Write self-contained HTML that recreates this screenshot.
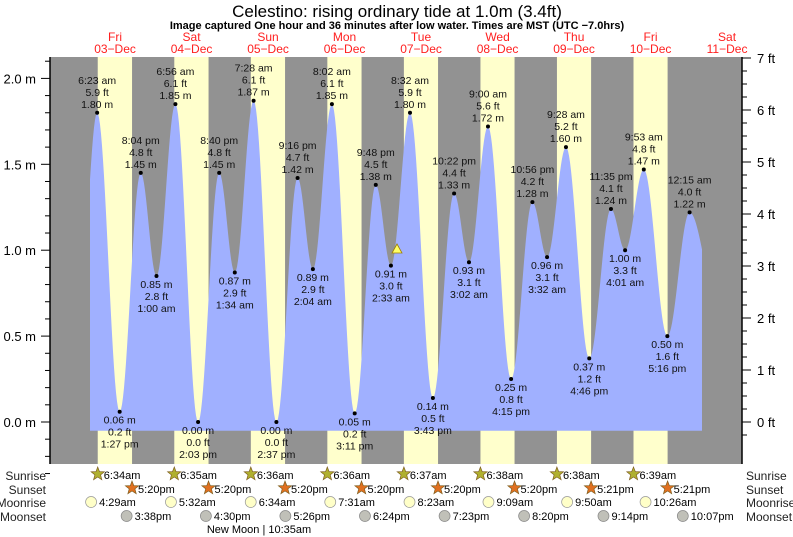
<!DOCTYPE html>
<html><head><meta charset="utf-8"><style>
body{margin:0;background:#fff}
svg{display:block;font-family:"Liberation Sans",sans-serif}
</style></head><body>
<svg id="s" width="793" height="537" xmlns="http://www.w3.org/2000/svg"></svg>
<script>
const s=document.getElementById('s');
const X=t=>76.8+t*3.1875, Y=h=>422-h*171.8;
let o='';
o+='<rect x="50" y="57" width="692" height="407" fill="#929292"/>';
const sr=[6.567,6.583,6.6,6.6,6.617,6.633,6.633,6.65], ss=[17.333,17.333,17.333,17.333,17.333,17.333,17.35,17.35];
for(let d=0;d<8;d++){o+=`<rect x="${X(d*24+sr[d])}" y="57" width="${X(ss[d])-X(sr[d])}" height="407" fill="#ffffcc"/>`;}
const E=[[1.3,0.85],[6.383,1.80],[13.45,0.06],[20.067,1.45],[25.0,0.85],[30.933,1.85],[38.05,0.00],[44.667,1.45],[49.567,0.87],[55.467,1.87],[62.617,0.00],[69.267,1.42],[74.067,0.89],[80.033,1.85],[87.183,0.05],[93.8,1.38],[98.55,0.91],[104.533,1.80],[111.717,0.14],[118.367,1.33],[123.033,0.93],[129.0,1.72],[136.25,0.25],[142.933,1.28],[147.533,0.96],[153.467,1.60],[160.767,0.37],[167.583,1.24],[172.017,1.00],[177.883,1.47],[185.267,0.50],[192.25,1.22],[201,0.7]];
function H(t){for(let i=0;i<E.length-1;i++){const[a,ha]=E[i],[b,hb]=E[i+1];if(t>=a&&t<=b){const f=(1-Math.cos(Math.PI*(t-a)/(b-a)))/2;return ha+(hb-ha)*f;}}return 1;}
let p=`M90 430.7`;for(let x=90;x<=702;x+=1){p+=` L${x} ${Y(H((x-76.8)/3.1875)).toFixed(1)}`;}
p+=' L702 430.7 Z';
o+=`<path d="${p}" fill="#a0b0ff"/>`;
const L=[["6:23 am","5.9 ft","1.80 m"],["0.06 m","0.2 ft","1:27 pm"],["8:04 pm","4.8 ft","1.45 m"],["0.85 m","2.8 ft","1:00 am"],["6:56 am","6.1 ft","1.85 m"],["0.00 m","0.0 ft","2:03 pm"],["8:40 pm","4.8 ft","1.45 m"],["0.87 m","2.9 ft","1:34 am"],["7:28 am","6.1 ft","1.87 m"],["0.00 m","0.0 ft","2:37 pm"],["9:16 pm","4.7 ft","1.42 m"],["0.89 m","2.9 ft","2:04 am"],["8:02 am","6.1 ft","1.85 m"],["0.05 m","0.2 ft","3:11 pm"],["9:48 pm","4.5 ft","1.38 m"],["0.91 m","3.0 ft","2:33 am"],["8:32 am","5.9 ft","1.80 m"],["0.14 m","0.5 ft","3:43 pm"],["10:22 pm","4.4 ft","1.33 m"],["0.93 m","3.1 ft","3:02 am"],["9:00 am","5.6 ft","1.72 m"],["0.25 m","0.8 ft","4:15 pm"],["10:56 pm","4.2 ft","1.28 m"],["0.96 m","3.1 ft","3:32 am"],["9:28 am","5.2 ft","1.60 m"],["0.37 m","1.2 ft","4:46 pm"],["11:35 pm","4.1 ft","1.24 m"],["1.00 m","3.3 ft","4:01 am"],["9:53 am","4.8 ft","1.47 m"],["0.50 m","1.6 ft","5:16 pm"],["12:15 am","4.0 ft","1.22 m"]];
for(let i=1;i<=31;i++){const[t,h]=E[i],x=X(t),y=Y(h),hi=E[i][1]>E[i-1][1],l=L[i-1];
o+=`<circle cx="${x}" cy="${y}" r="2" fill="#000"/>`;
for(let k=0;k<3;k++){const yy=hi?y-29+k*12:y+12+k*12;o+=`<text x="${x}" y="${yy}" font-size="10.5" text-anchor="middle" fill="#111">${l[k]}</text>`;}}
o+=`<polygon points="397,244 392,253 402,253" fill="#ffff66" stroke="#a08000" stroke-width="0.8"/>`;
o+='<line x1="50" y1="57" x2="50" y2="464" stroke="#000" stroke-width="1.5"/><line x1="742" y1="57" x2="742" y2="464" stroke="#000" stroke-width="1.5"/>';
for(let i=-3;i<=21;i++){const y=Y(i/10);if(y<57)continue;o+=`<line x1="${i%5?45:41}" y1="${y}" x2="50" y2="${y}" stroke="#000"/>`;if(i%5==0&&i>=0)o+=`<text x="36" y="${y+5}" font-size="13" text-anchor="end">${(i/10).toFixed(1)} m</text>`;}
for(let i=-1;i<=28;i++){const y=422-i/4*52.0;if(y<56)continue;o+=`<line x1="742" y1="${y}" x2="${i%4?747:751}" y2="${y}" stroke="#000"/>`;if(i%4==0&&i>=0)o+=`<text x="757" y="${y+5}" font-size="13">${i/4} ft</text>`;}
o+='<text x="397" y="17" font-size="17" text-anchor="middle">Celestino: rising  ordinary tide at 1.0m (3.4ft)</text>';
o+='<text x="397" y="29" font-size="11" font-weight="bold" text-anchor="middle">Image captured One hour and 36 minutes after low water. Times are MST (UTC −7.0hrs)</text>';
const dn=["Fri","Sat","Sun","Mon","Tue","Wed","Thu","Fri","Sat"],dd=["03","04","05","06","07","08","09","10","11"];
for(let d=0;d<9;d++){const x=X(d*24+12);o+=`<text x="${x}" y="41" font-size="12" fill="#ff2020" text-anchor="middle">${dn[d]}</text><text x="${x}" y="53" font-size="12" fill="#ff2020" text-anchor="middle">${dd[d]}−Dec</text>`;}
const rows=[["Sunrise",475],["Sunset",489],["Moonrise",502],["Moonset",516]];
rows.forEach(([n,y])=>{o+=`<text x="46" y="${y+5}" font-size="12" text-anchor="end" fill="#222">${n}</text><text x="746" y="${y+5}" font-size="12" fill="#222">${n}</text>`;});
function star(cx,cy,f){let pts=[];for(let k=0;k<10;k++){const r=k%2?3:7,a=-Math.PI/2+k*Math.PI/5;pts.push((cx+r*Math.cos(a)).toFixed(1)+','+(cy+r*Math.sin(a)).toFixed(1));}return `<polygon points="${pts.join(' ')}" fill="${f}" stroke="#806020" stroke-width="0.7"/>`;}
const srt=["6:34am","6:35am","6:36am","6:36am","6:37am","6:38am","6:38am","6:39am"];
const mr=[[4.483,"4:29am"],[5.533,"5:32am"],[6.567,"6:34am"],[7.517,"7:31am"],[8.383,"8:23am"],[9.15,"9:09am"],[9.833,"9:50am"],[10.433,"10:26am"]];
const ms=[[15.633,"3:38pm"],[16.5,"4:30pm"],[17.433,"5:26pm"],[18.4,"6:24pm"],[19.383,"7:23pm"],[20.333,"8:20pm"],[21.233,"9:14pm"],[22.117,"10:07pm"]];
for(let d=0;d<8;d++){let x=X(d*24+sr[d]);o+=star(x,474,"#b0b030")+`<text x="${x+6}" y="479" font-size="11">${srt[d]}</text>`;
x=X(d*24+ss[d]);o+=star(x,488,"#e07020")+`<text x="${x+6}" y="493" font-size="11">${ss[d]>17.34?"5:21pm":"5:20pm"}</text>`;
x=X(d*24+mr[d][0]);o+=`<circle cx="${x}" cy="502" r="5.5" fill="#ffffc8" stroke="#999" stroke-width="0.7"/><text x="${x+8}" y="506" font-size="11">${mr[d][1]}</text>`;
x=X(d*24+ms[d][0]);o+=`<circle cx="${x}" cy="516" r="5.5" fill="#c0c0b8" stroke="#888" stroke-width="0.7"/><text x="${x+8}" y="520" font-size="11">${ms[d][1]}</text>`;}
o+='<text x="259" y="533" font-size="11" text-anchor="middle">New Moon | 10:35am</text>';
s.innerHTML=o;
</script>
</body></html>
